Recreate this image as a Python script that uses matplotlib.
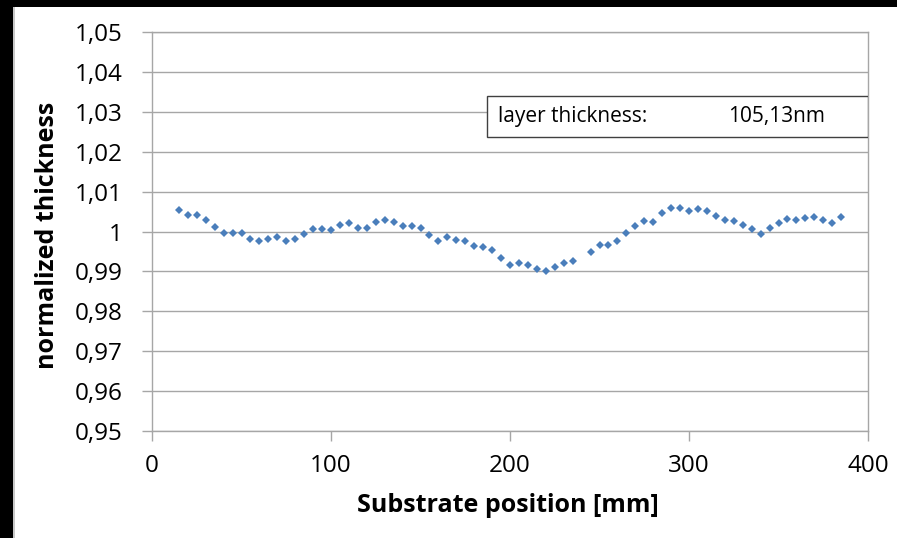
import matplotlib
matplotlib.use("Agg")
import matplotlib.pyplot as plt
from matplotlib.patches import Rectangle

plt.rcParams["font.family"] = ["Open Sans", "DejaVu Sans"]

# positions [mm] (240 mm has no measurement)
position = [15, 20, 25, 30, 35, 40, 45, 50, 55, 60, 65, 70, 75, 80, 85, 90,
            95, 100, 105, 110, 115, 120, 125, 130, 135, 140, 145, 150, 155,
            160, 165, 170, 175, 180, 185, 190, 195, 200, 205, 210, 215, 220,
            225, 230, 235, 245, 250, 255, 260, 265, 270, 275, 280, 285, 290,
            295, 300, 305, 310, 315, 320, 325, 330, 335, 340, 345, 350, 355,
            360, 365, 370, 375, 380, 385]
thickness = [1.0054, 1.0042, 1.0042, 1.0029, 1.0012, 0.9995, 0.9995, 0.9995,
             0.9981, 0.9977, 0.9981, 0.9986, 0.9977, 0.9980, 0.9993, 1.0006,
             1.0006, 1.0003, 1.0016, 1.0022, 1.0010, 1.0009, 1.0024, 1.0028,
             1.0024, 1.0014, 1.0014, 1.0010, 0.9991, 0.9975, 0.9985, 0.9979,
             0.9975, 0.9964, 0.9962, 0.9953, 0.9933, 0.9917, 0.9920, 0.9915,
             0.9906, 0.9900, 0.9911, 0.9922, 0.9925, 0.9949, 0.9967, 0.9967,
             0.9975, 0.9997, 1.0015, 1.0026, 1.0025, 1.0047, 1.0060, 1.0060,
             1.0051, 1.0056, 1.0052, 1.0040, 1.0028, 1.0026, 1.0017, 1.0007,
             0.9994, 1.0008, 1.0021, 1.0032, 1.0028, 1.0034, 1.0037, 1.0028,
             1.0021, 1.0036]

y_ticks = [0.95, 0.96, 0.97, 0.98, 0.99, 1.00, 1.01, 1.02, 1.03, 1.04, 1.05]
y_ticklabels = ["0,95", "0,96", "0,97", "0,98", "0,99", "1", "1,01", "1,02",
                "1,03", "1,04", "1,05"]
x_ticks = [0, 100, 200, 300, 400]
layer_label = "layer thickness:"
layer_value = "105,13nm"

fig = plt.figure(figsize=(8.97, 5.38), dpi=100)
fig.patch.set_facecolor("white")
# black frame remnants at left and top edges
fig.add_artist(Rectangle((0, 0), 13 / 897, 1, transform=fig.transFigure,
                         facecolor="black", edgecolor="none"))
fig.add_artist(Rectangle((0, 1 - 7 / 538), 1, 7 / 538, transform=fig.transFigure,
                         facecolor="black", edgecolor="none"))
fig.add_artist(Rectangle((13 / 897, 0), 1.5 / 897, 1 - 7 / 538,
                         transform=fig.transFigure,
                         facecolor="#c8c8c8", edgecolor="none"))

ax = fig.add_axes([0.1695, 0.1994, 0.9677 - 0.1695, 0.94 - 0.1994])
grid_col = "#a6a6a6"

ax.plot(position, thickness, linestyle="none", marker="D", markersize=4.2,
        color="#4a7ebb", markeredgewidth=0)

ax.set_xlim(0, 400)
ax.set_ylim(0.95, 1.05)
ax.set_xticks(x_ticks)
ax.set_yticks(y_ticks)
ax.set_yticklabels(y_ticklabels)
ax.yaxis.grid(True, color=grid_col, linewidth=1)
ax.set_axisbelow(True)
for sp in ax.spines.values():
    sp.set_color(grid_col)
    sp.set_linewidth(1)
ax.tick_params(axis="both", direction="out", length=7.5, width=1,
               color=grid_col, labelsize=17.5)
ax.tick_params(axis="y", pad=13.5)
ax.tick_params(axis="x", pad=9)

ax.set_xlabel("Substrate position [mm]", fontsize=18, fontweight="bold")
ax.set_ylabel("normalized thickness", fontsize=18, fontweight="bold")
ax.xaxis.set_label_coords(0.497, -0.156)
ax.yaxis.set_label_coords(-0.129, 0.49)

# annotation box
ax.add_patch(Rectangle((0.468, 0.738), 1 - 0.468, 0.840 - 0.738,
                       transform=ax.transAxes, facecolor="white",
                       edgecolor="#404040", linewidth=1, zorder=3))
ax.text(0.483, 0.789, layer_label, transform=ax.transAxes, fontsize=15,
        va="center", ha="left", zorder=4)
ax.text(0.804, 0.789, layer_value, transform=ax.transAxes, fontsize=15,
        va="center", ha="left", zorder=4)

fig.savefig("out.png", dpi=100)
